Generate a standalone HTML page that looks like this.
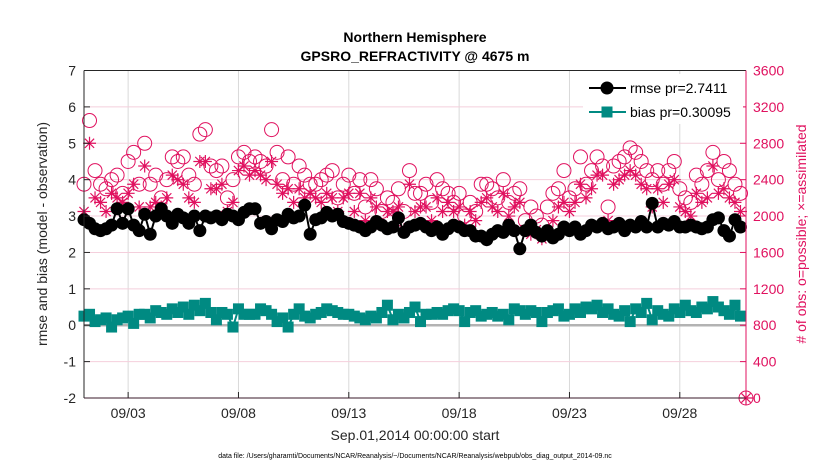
<!DOCTYPE html>
<html><head><meta charset="utf-8"><style>
body{margin:0;background:#fff;}
svg{display:block;font-family:"Liberation Sans",sans-serif;}
</style></head><body>
<svg id="chart" width="830" height="470">
<g id="grid"></g>
<g id="marks"></g>
<g id="axes"></g>
<text x="415" y="42" text-anchor="middle" font-size="14" font-weight="bold" fill="#000">Northern Hemisphere</text>
<text x="415" y="61" text-anchor="middle" font-size="14" font-weight="bold" fill="#000">GPSRO_REFRACTIVITY @ 4675 m</text>
<text transform="translate(47,234) rotate(-90)" text-anchor="middle" font-size="14" fill="#262626">rmse and bias (model - observation)</text>
<text transform="translate(806,234) rotate(-90)" text-anchor="middle" font-size="14" fill="#e0115f"># of obs: o=possible; ×=assimilated</text>
<text x="415" y="440" text-anchor="middle" font-size="14" fill="#262626">Sep.01,2014 00:00:00 start</text>
<text x="415" y="458" text-anchor="middle" font-size="7" fill="#000">data file: /Users/gharamti/Documents/NCAR/Reanalysis/~/Documents/NCAR/Reanalysis/webpub/obs_diag_output_2014-09.nc</text>
<g>
<rect x="583" y="74" width="160" height="50" fill="#fff" stroke="none"/>
<g>
<line x1="589" y1="88" x2="626" y2="88" stroke="#000" stroke-width="2"/>
<circle cx="607" cy="88" r="6.5" fill="#000"/>
<text x="630" y="93" font-size="14" fill="#000">rmse pr=2.7411</text>
</g>
<g>
<line x1="589" y1="112" x2="626" y2="112" stroke="#008a82" stroke-width="2"/>
<rect x="601.5" y="106.5" width="11" height="11" fill="#008a82"/>
<text x="630" y="117" font-size="14" fill="#000">bias pr=0.30095</text>
</g>
</g>
</svg>
<script>
const rmse=[2.9,2.8,2.65,2.6, 2.65,2.75,3.2,2.8, 3.2,2.75,2.6,3.05, 2.5,3.0,3.2,3.0, 2.8,3.05,2.95,2.8,
3.0,2.6,3.0,2.95, 3.0,2.9,3.05,3.0, 2.9,3.1,3.2,3.2, 2.8,2.85,2.65,2.9, 2.85,3.05,2.95,3.0,
3.3,2.5,2.9,2.95, 3.1,3.0,3.05,2.85, 2.8,2.75,2.7,2.6, 2.7,2.85,2.75,2.65, 2.7,2.95,2.55,2.7,
2.75,2.8,2.7,2.6, 2.7,2.5,2.65,2.75, 2.7,2.6,2.6,2.45, 2.45,2.35,2.5,2.6, 2.55,2.75,2.6,2.1,
2.6,2.75,2.55,2.45, 2.6,2.4,2.5,2.7, 2.6,2.7,2.5,2.6, 2.75,2.7,2.8,2.65, 2.7,2.8,2.6,2.75,
2.7,2.85,2.7,3.35, 2.7,2.8,2.75,2.85, 2.7,2.7,2.75,2.7, 2.65,2.7,2.9,2.95, 2.6,2.45,2.9,2.7];
const bias=[0.25,0.3,0.1,0.15, 0.2,-0.05,0.15,0.2, 0.25,0.05,0.3,0.3, 0.2,0.4,0.35,0.3, 0.45,0.35,0.5,0.3,
0.55,0.4,0.6,0.35, 0.15,0.35,0.3,-0.05, 0.45,0.3,0.3,0.3, 0.45,0.4,0.3,0.1, 0.2,-0.05,0.3,0.45,
0.25,0.2,0.3,0.35, 0.45,0.4,0.35,0.3, 0.3,0.25,0.2,0.15, 0.25,0.2,0.35,0.55, 0.15,0.3,0.2,0.35,
0.5,0.1,0.3,0.3, 0.35,0.3,0.4,0.45, 0.4,0.1,0.35,0.4, 0.25,0.3,0.35,0.25, 0.3,0.15,0.45,0.4,
0.3,0.4,0.35,0.1, 0.35,0.4,0.45,0.25, 0.3,0.45,0.35,0.5, 0.45,0.55,0.35,0.45, 0.3,0.25,0.4,0.1,
0.45,0.35,0.6,0.15, 0.4,0.3,0.25,0.45, 0.35,0.55,0.4,0.35, 0.5,0.45,0.65,0.5, 0.4,0.3,0.55,0.25];
const possible=[2350,3050,2500,2350, 2300,2400,2450,2250, 2600,2700,2350,2800, 2350,2450,2200,2400, 2650,2600,2650,2450,
2350,2900,2950,2550, 2500,2550,2200,2400, 2650,2700,2600,2650, 2600,2550,2950,2700, 2400,2650,2350,2550,
2450,2350,2350,2400, 2450,2500,2200,2350, 2450,2250,2400,2100, 2400,2300,2050,2200, 2150,2300,2050,2500,
2250,2250,2350,2150, 2400,2300,2250,2150, 2250,2000,2150,2050, 2350,2350,2300,2200, 2400,2150,2250,2300,
1950,2100,2000,1900, 2100,2250,2300,2500, 2200,2300,2650,2350, 2500,2650,2550,2100, 2550,2600,2650,2750,
2700,2600,2500,2400, 2500,2350,2500,2600, 2300,2200,2150,2450, 2350,2500,2700,2400, 2600,2500,2350,2250, 0];
const assimilated=[2050,2800,2200,2150, 2050,2250,2200,2150, 2250,2350,2100,2550, 2100,2150,2100,2200, 2450,2400,2350,2200,
2150,2600,2600,2300, 2300,2350,2050,2150, 2500,2550,2450,2500, 2450,2400,2600,2350, 2250,2300,2150,2300,
2200,2250,2200,2150, 2250,2200,2050,2200, 2250,2050,2250,1950, 2200,2100,1900,2050, 2050,2100,1850,2350,
2050,2100,2100,1950, 2200,2050,2150,2050, 2100,1900,2050,1950, 2150,2200,2100,2050, 2250,2000,2100,2150,
1850,1800,1850,1750, 1800,1950,2100,2150, 2050,2150,2350,2200, 2300,2450,2450,1950, 2350,2400,2450,2500,
2450,2350,2300,2100, 2300,2150,2350,2400, 2100,2050,2000,2250, 2150,2200,2550,2250, 2300,2200,2150,2050, 0];
const xTickLabels=["09/03","09/08","09/13","09/18","09/23","09/28"];
const xTickDays=[2,7,12,17,22,27];
const yTicks=[-2,-1,0,1,2,3,4,5,6,7];
const rTicks=[0,400,800,1200,1600,2000,2400,2800,3200,3600];

const NS="http://www.w3.org/2000/svg";
const L=84,R=746,T=70.5,B=398;
const x=d=>L+(R-L)*d/30;
const y=v=>B-(v+2)/9*(B-T);
const yr=c=>B-c/3600*(B-T);
const tday=i=>i*0.25;
function mk(tag,attrs,parent){const e=document.createElementNS(NS,tag);for(const k in attrs)e.setAttribute(k,attrs[k]);parent.appendChild(e);return e;}
const grid=document.getElementById('grid'),marks=document.getElementById('marks'),axes=document.getElementById('axes');

xTickDays.forEach((d,i)=>{
 const g=mk('line',{x1:x(d),x2:x(d),y1:T,y2:B,stroke:'#d9d9d9','stroke-width':1},grid);
 
 
 const t=mk('line',{x1:x(d),x2:x(d),y1:B,y2:B-6,stroke:'#262626','stroke-width':1},axes);
 
 
 const lb=mk('text',{x:x(d),y:B+20,'text-anchor':'middle','font-size':14,fill:'#262626'},axes);
 lb.textContent=xTickLabels[i];
 
 
});
rTicks.forEach(c=>{
 const g=mk('line',{x1:L,x2:R,y1:yr(c),y2:yr(c),stroke:'#f4cfdc','stroke-width':1},grid);
 
 
 const t=mk('line',{x1:R,x2:R-6,y1:yr(c),y2:yr(c),stroke:'#e0115f'},axes);
 
 
 const lb=mk('text',{x:R+7,y:yr(c)+5,'font-size':14,fill:'#e0115f'},axes);
 lb.textContent=c;
 
 
});
yTicks.forEach(v=>{
 const t=mk('line',{x1:L,x2:L+6,y1:y(v),y2:y(v),stroke:'#262626'},axes);
 
 
 const lb=mk('text',{x:L-8,y:y(v)+5,'text-anchor':'end','font-size':14,fill:'#262626'},axes);
 lb.textContent=v;
 
 
});
const zl=mk('line',{x1:L,x2:R,y1:y(0),y2:y(0),stroke:'#b3b3b3','stroke-width':2.5},grid);


const at=mk('line',{x1:L,x2:R,y1:T,y2:T,stroke:'#262626'},axes);


const ab=mk('line',{x1:L,x2:R,y1:B,y2:B,stroke:'#3a1a2a'},axes);


const al=mk('line',{x1:L,x2:L,y1:T,y2:B,stroke:'#262626'},axes);


const ar=mk('line',{x1:R,x2:R,y1:T,y2:B,stroke:'#e0115f'},axes);



const pink='#e0115f';
possible.forEach((c,i)=>{
 const p=mk('circle',{cx:x(tday(i)),cy:yr(c),r:7,fill:'none',stroke:pink,'stroke-width':1},marks);
 
 
});
assimilated.forEach((c,i)=>{
 const cx=x(tday(i)),cy=yr(c),s=6.5,d=4.6;
 const p=mk('path',{d:`M${cx-s},${cy}H${cx+s}M${cx},${cy-s}V${cy+s}M${cx-d},${cy-d}L${cx+d},${cy+d}M${cx-d},${cy+d}L${cx+d},${cy-d}`,stroke:pink,'stroke-width':1.2,fill:'none'},marks);
 
 
});
const bl=mk('polyline',{points:bias.map((v,i)=>x(tday(i))+','+y(v)).join(' '),fill:'none',stroke:'#008a82','stroke-width':2},marks);


bias.forEach((v,i)=>{
 const p=mk('rect',{x:x(tday(i))-5.5,y:y(v)-5.5,width:11,height:11,fill:'#008a82'},marks);
 
 
});
const rl=mk('polyline',{points:rmse.map((v,i)=>x(tday(i))+','+y(v)).join(' '),fill:'none',stroke:'#000','stroke-width':2},marks);


rmse.forEach((v,i)=>{
 const p=mk('circle',{cx:x(tday(i)),cy:y(v),r:6.5,fill:'#000'},marks);
 
 
});
</script>
</body></html>
